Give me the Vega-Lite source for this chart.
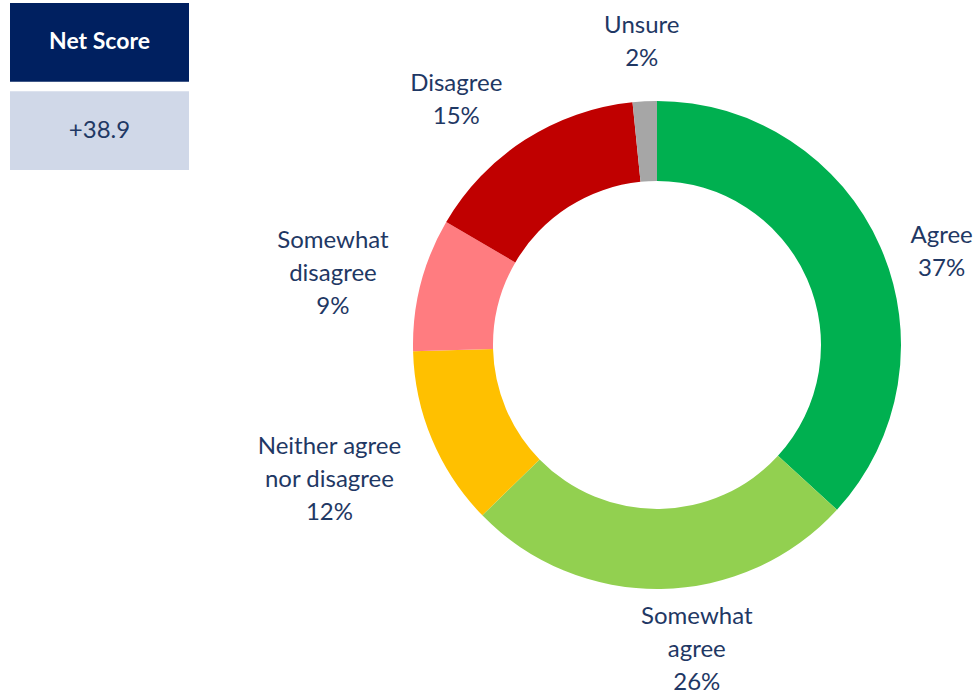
{
  "$schema": "https://vega.github.io/schema/vega-lite/v6.json",
  "description": "Net score box and donut chart of agreement responses",
  "padding": {"left": 10, "top": 3, "right": 0, "bottom": 0},
  "background": "white",
  "bounds": "flush",
  "config": {"view": {"stroke": null}, "font": "Lato"},
  "spacing": 150,
  "datasets": {
    "score": [
      {"row": "header", "text": "Net Score"},
      {"row": "value", "text": "+38.9"}
    ],
    "responses": [
      {"idx": 1, "category": "Agree", "value": 36.8, "label": "Agree\n37%"},
      {"idx": 2, "category": "Somewhat agree", "value": 25.9, "label": "Somewhat\nagree\n26%"},
      {"idx": 3, "category": "Neither agree nor disagree", "value": 11.9, "label": "Neither agree\nnor disagree\n12%"},
      {"idx": 4, "category": "Somewhat disagree", "value": 8.8, "label": "Somewhat\ndisagree\n9%"},
      {"idx": 5, "category": "Disagree", "value": 15.0, "label": "Disagree\n15%"},
      {"idx": 6, "category": "Unsure", "value": 1.6, "label": "Unsure\n2%"}
    ]
  },
  "hconcat": [
    {
      "width": 179,
      "height": 167,
      "data": {"name": "score"},
      "encoding": {
        "y": {
          "field": "row",
          "type": "nominal",
          "sort": ["header", "value"],
          "axis": null,
          "scale": {"paddingInner": 0.11, "paddingOuter": 0}
        }
      },
      "layer": [
        {
          "mark": {"type": "rect"},
          "encoding": {
            "color": {
              "condition": {"test": "datum.row === 'header'", "value": "#002060"},
              "value": "#D0D8E8"
            }
          }
        },
        {
          "transform": [{"filter": "datum.row === 'header'"}],
          "mark": {"type": "text", "fontSize": 23, "fontWeight": "bold", "color": "white"},
          "encoding": {"text": {"field": "text"}}
        },
        {
          "transform": [{"filter": "datum.row === 'value'"}],
          "mark": {"type": "text", "fontSize": 24, "color": "#1F3864"},
          "encoding": {"text": {"field": "text"}}
        }
      ]
    },
    {
      "width": 636,
      "height": 684,
      "data": {"name": "responses"},
      "encoding": {
        "theta": {"field": "value", "type": "quantitative", "stack": true, "scale": {"domain": [0, 100]}},
        "order": {"field": "idx", "type": "quantitative"}
      },
      "layer": [
        {
          "mark": {"type": "arc", "outerRadius": 244, "innerRadius": 164},
          "encoding": {
            "color": {
              "field": "category",
              "type": "nominal",
              "legend": null,
              "scale": {
                "domain": ["Agree", "Somewhat agree", "Neither agree nor disagree", "Somewhat disagree", "Disagree", "Unsure"],
                "range": ["#00B050", "#92D050", "#FFC000", "#FF7C80", "#C00000", "#A6A6A6"]
              }
            }
          }
        },
        {
          "mark": {"type": "text", "radius": 300, "dx": 10, "dy": 12, "lineHeight": 33, "lineBreak": "\n", "color": "#1F3864"},
          "encoding": {
            "text": {"condition": {"test": "datum.category === 'Agree'", "field": "label", "type": "nominal"}, "value": ""},
            "size": {"condition": {"test": "datum.category === 'Agree'", "value": 24}, "value": 0}
          }
        },
        {
          "mark": {"type": "text", "radius": 305, "dx": 35, "dy": -33, "lineHeight": 33, "lineBreak": "\n", "color": "#1F3864"},
          "encoding": {
            "text": {"condition": {"test": "datum.category === 'Somewhat agree'", "field": "label", "type": "nominal"}, "value": ""},
            "size": {"condition": {"test": "datum.category === 'Somewhat agree'", "value": 24}, "value": 0}
          }
        },
        {
          "mark": {"type": "text", "radius": 260, "dx": -88, "dy": 1, "lineHeight": 33, "lineBreak": "\n", "color": "#1F3864"},
          "encoding": {
            "text": {"condition": {"test": "datum.category === 'Neither agree nor disagree'", "field": "label", "type": "nominal"}, "value": ""},
            "size": {"condition": {"test": "datum.category === 'Neither agree nor disagree'", "value": 24}, "value": 0}
          }
        },
        {
          "mark": {"type": "text", "radius": 316, "dx": -18, "dy": -25, "lineHeight": 33, "lineBreak": "\n", "color": "#1F3864"},
          "encoding": {
            "text": {"condition": {"test": "datum.category === 'Somewhat disagree'", "field": "label", "type": "nominal"}, "value": ""},
            "size": {"condition": {"test": "datum.category === 'Somewhat disagree'", "value": 24}, "value": 0}
          }
        },
        {
          "mark": {"type": "text", "radius": 310, "dx": -33, "dy": 0, "lineHeight": 33, "lineBreak": "\n", "color": "#1F3864"},
          "encoding": {
            "text": {"condition": {"test": "datum.category === 'Disagree'", "field": "label", "type": "nominal"}, "value": ""},
            "size": {"condition": {"test": "datum.category === 'Disagree'", "value": 24}, "value": 0}
          }
        },
        {
          "mark": {"type": "text", "radius": 303, "dy": -16, "lineHeight": 33, "lineBreak": "\n", "color": "#1F3864"},
          "encoding": {
            "text": {"condition": {"test": "datum.category === 'Unsure'", "field": "label", "type": "nominal"}, "value": ""},
            "size": {"condition": {"test": "datum.category === 'Unsure'", "value": 24}, "value": 0}
          }
        }
      ]
    }
  ]
}
